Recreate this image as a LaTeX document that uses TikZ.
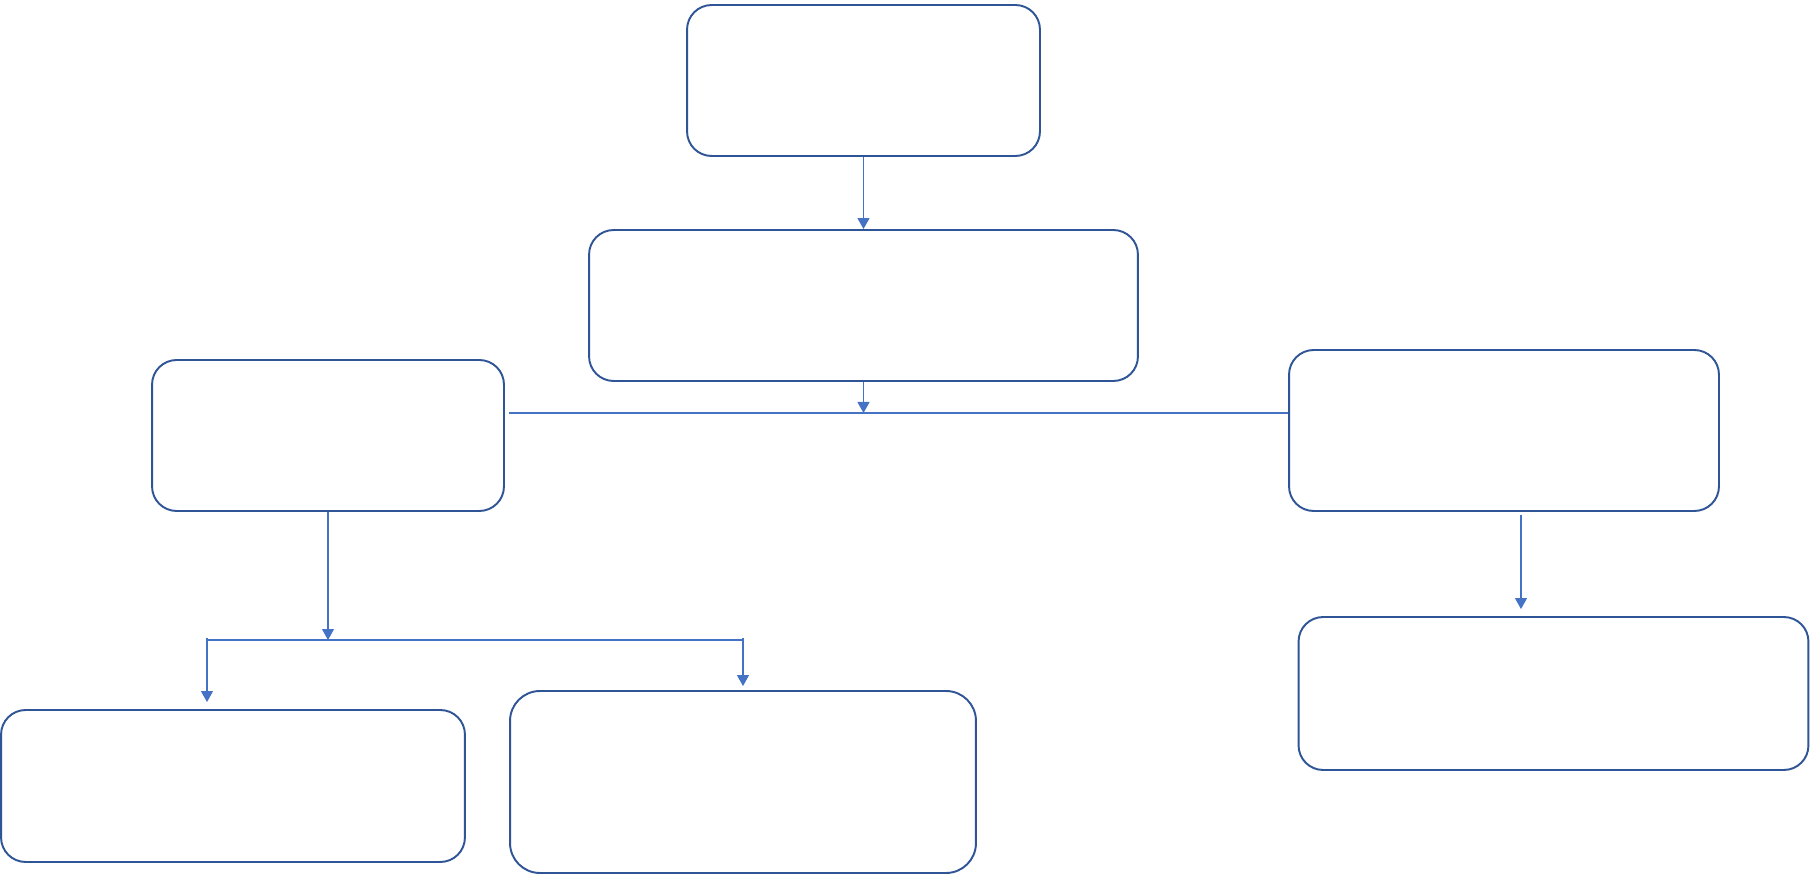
\documentclass[tikz,border=0pt]{standalone}
\usepackage{tikz}
\usetikzlibrary{positioning,arrows.meta,calc}
\usepackage{xcolor}
\definecolor{boxblue}{HTML}{2F5597}
\definecolor{linkblue}{HTML}{4472C4}

\begin{document}
\begin{tikzpicture}[
    x=0.02cm, y=-0.02cm,
    flowbox/.style={draw=boxblue, line width=1.1pt, fill=white, rounded corners=14pt, inner sep=0pt},
    link/.style={draw=linkblue, line width=0.6pt},
    linkarrow/.style={link, -{Triangle[width=0.24cm,length=0.22cm]}, color=linkblue}
]
    \useasboundingbox (0,0) rectangle (1810,874);

    % Livello superiore
    \node[flowbox, minimum width=7.06cm, minimum height=3.02cm] (top) at (863.5, 80.5) {};
    \node[flowbox, minimum width=10.98cm, minimum height=3.02cm] (mid) at (863.5, 305.5) {};

    % Livello intermedio
    \node[flowbox, minimum width=7.04cm, minimum height=3.02cm] (left) at (328, 435.5) {};
    \node[flowbox, minimum width=8.6cm, minimum height=3.22cm] (right) at (1504, 430.5) {};

    % Livello inferiore
    \node[flowbox, minimum width=9.28cm, minimum height=3.04cm] (leftA) at (233, 786) {};
    \node[flowbox, minimum width=9.32cm, minimum height=3.64cm, rounded corners=17pt] (leftB) at (743, 782) {};
    \node[flowbox, minimum width=10.2cm, minimum height=3.06cm] (rightA) at (1553.5, 693.5) {};

    % Linee di raccordo
    \coordinate (bus) at (509, 413);
    \coordinate (fork) at (207, 640);
    \coordinate (rstart) at (1521, 515);

    \draw[linkarrow] (top.south) -- (top.south |- mid.north);
    \draw[linkarrow] (mid.south) -- (mid.south |- bus);
    \draw[link] (bus) -- (bus -| right.west);

    \draw[linkarrow] (left.south) -- (left.south |- fork);
    \draw[link] (fork) -- (fork -| leftB.north);
    \draw[linkarrow] ($(fork)+(0,-2)$) -- ($(fork |- leftA.north)+(0,-7)$);
    \draw[linkarrow] ($(fork -| leftB.north)+(0,-2)$) -- ($(leftB.north)+(0,-4)$);

    \draw[linkarrow] (rstart) -- ($(rstart |- rightA.north)+(0,-7)$);
\end{tikzpicture}
\end{document}
